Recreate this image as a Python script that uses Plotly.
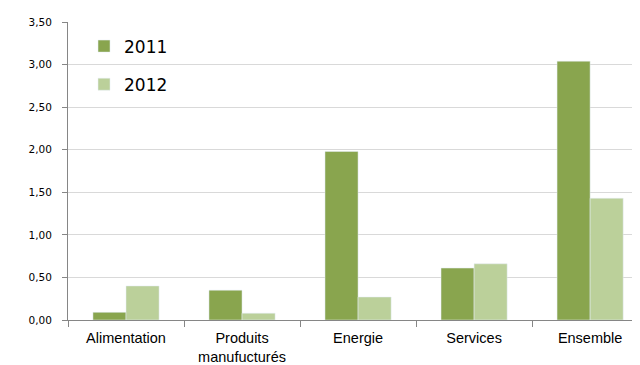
import plotly.graph_objects as go

categories = ["Alimentation", "Produits<br>manufucturés", "Energie", "Services", "Ensemble"]
values_2011 = [0.09, 0.35, 1.98, 0.61, 3.04]
values_2012 = [0.40, 0.08, 0.27, 0.66, 1.43]
y_ticks = [0, 0.5, 1.0, 1.5, 2.0, 2.5, 3.0, 3.5]

fig = go.Figure()
fig.add_trace(go.Bar(name="2011", x=categories, y=values_2011, marker_color="#89A54E",
                     legendgroup="a"))
fig.add_trace(go.Bar(name="2012", x=categories, y=values_2012, marker_color="#BBD09A",
                     legendgroup="b"))

fig.update_layout(
    width=640, height=365,
    margin=dict(l=60, r=8, t=14, b=53),
    plot_bgcolor="white", paper_bgcolor="white",
    separators=", ",
    barmode="group", bargap=0.43, bargroupgap=0,
    showlegend=True,
    legend=dict(x=0.028, y=0.978, xanchor="left", yanchor="top",
                font=dict(family="DejaVu Sans", size=17, color="#000"),
                tracegroupgap=13, bgcolor="rgba(0,0,0,0)"),
    font=dict(family="Liberation Sans", color="#000"),
)
fig.add_annotation(text="<b>(en moyenne annuelle, en %)</b>", xref="paper", yref="paper",
                   x=0.43, y=1.06, yanchor="bottom", showarrow=False,
                   font=dict(family="Liberation Sans", size=13, color="#000"))
fig.update_xaxes(range=[-0.5, 4.43], showline=True, linecolor="#868686", linewidth=1,
                 ticks="outside", tickson="boundaries", ticklen=6, tickcolor="#868686",
                 ticklabelstandoff=5, automargin=False,
                 tickfont=dict(family="Liberation Sans", size=14.5, color="#000"),
                 showgrid=False, fixedrange=True)
fig.update_yaxes(range=[0, 3.5], tickvals=y_ticks, tickformat=".2f",
                 showline=True, linecolor="#868686", linewidth=1, automargin=False,
                 ticks="outside", ticklen=5, tickcolor="#868686", ticklabelstandoff=8,
                 tickfont=dict(family="DejaVu Sans", size=10.5, color="#000"),
                 showgrid=True, gridcolor="#D9D9D9", gridwidth=1, zeroline=False)

fig.write_html("out.html")
